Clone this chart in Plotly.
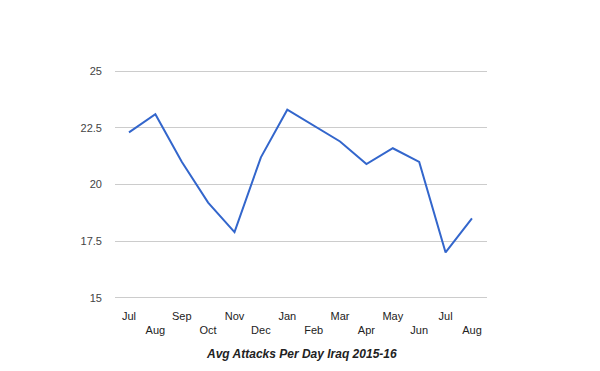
import plotly.graph_objects as go

months = ["Jul", "Aug", "Sep", "Oct", "Nov", "Dec", "Jan", "Feb", "Mar", "Apr", "May", "Jun", "Jul", "Aug"]
attacks = [22.3, 23.1, 21.0, 19.2, 17.9, 21.2, 23.3, 22.6, 21.9, 20.9, 21.6, 21.0, 17.0, 18.5]
y_ticks = [15, 17.5, 20, 22.5, 25]
y_tick_labels = ["15", "17.5", "20", "22.5", "25"]
title_text = "Avg Attacks Per Day Iraq 2015-16"

x_idx = list(range(len(months)))
x_labels = [m if i % 2 == 0 else "<br>" + m for i, m in enumerate(months)]

fig = go.Figure()
fig.add_trace(go.Scatter(
    x=x_idx, y=attacks, mode="lines",
    line=dict(color="#3366cc", width=2),
    showlegend=False,
))

fig.update_layout(
    width=600, height=371,
    margin=dict(l=115, r=113, t=69, b=71, autoexpand=False),
    paper_bgcolor="white", plot_bgcolor="white",
    font=dict(family="Arial, Liberation Sans, sans-serif", size=11, color="#444444"),
    xaxis=dict(
        range=[-0.53, 13.57], tickmode="array", tickvals=x_idx, ticktext=x_labels,
        showgrid=False, zeroline=False, showline=False, ticks="",
        tickfont=dict(size=11, color="#222222"), tickangle=0,
        ticklabelstandoff=8, automargin=False,
    ),
    yaxis=dict(
        range=[14.9, 25.1], tickmode="array", tickvals=y_ticks, ticktext=y_tick_labels,
        showgrid=True, gridcolor="#cccccc", gridwidth=1, zeroline=False, showline=False,
        ticks="", ticklen=0, tickfont=dict(size=11, color="#444444"),
        ticklabelstandoff=12, automargin=False,
    ),
    annotations=[dict(
        text="<b><i>" + title_text + "</i></b>", xref="paper", yref="paper",
        x=0.5, y=-0.234, xanchor="center", yanchor="middle", showarrow=False,
        font=dict(family="Arial, Liberation Sans, sans-serif", size=12, color="#222222"),
    )],
)

fig.write_html("out.html", config={"displayModeBar": False},
               post_script="document.body.style.margin='0px';")
